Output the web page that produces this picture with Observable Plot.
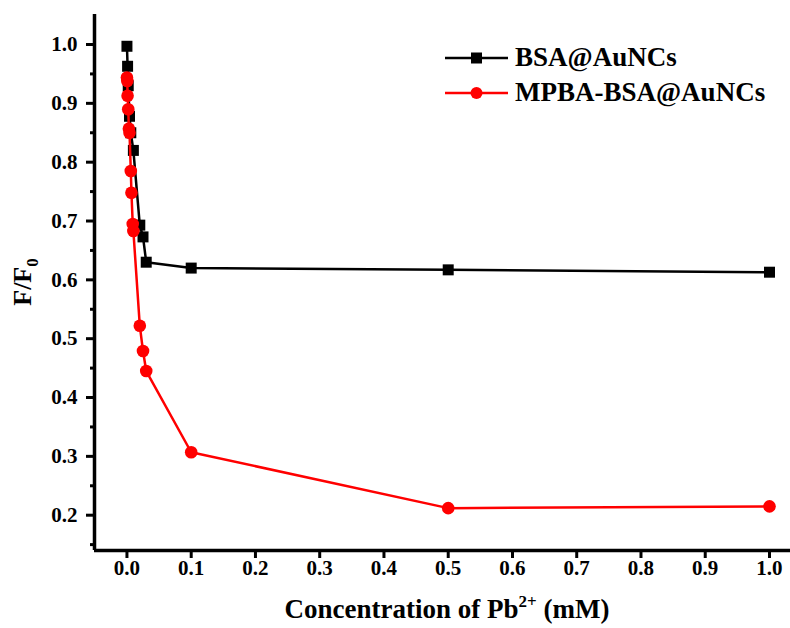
<!DOCTYPE html>
<html>
<head>
<meta charset="utf-8">
<script src="https://cdn.jsdelivr.net/npm/d3@7"></script>
<script src="https://cdn.jsdelivr.net/npm/@observablehq/plot@0.6"></script>
<style>
  html, body { margin: 0; padding: 0; background: #fff; }
  #wrap { position: relative; width: 790px; height: 628px; }
  #legend { position: absolute; left: 445px; top: 40px; font-family: "Liberation Serif", "Times New Roman", serif; font-weight: bold; font-size: 27px; color: #000; }
  .row { display: flex; align-items: center; height: 35px; }
  .row svg { margin-right: 7px; }
</style>
</head>
<body>
<div id="wrap"><div id="legend"></div></div>
<script>
// Series names / colors
const seriesNames = ["BSA@AuNCs", "MPBA-BSA@AuNCs"];
const seriesColors = ["#000000", "#ff0000"];
const seriesSymbols = ["square", "circle"];

// BSA@AuNCs (black squares)
const bsaX = [0, 0.001, 0.002, 0.004, 0.006, 0.01, 0.02, 0.025, 0.03, 0.1, 0.5, 1.0];
const bsaY = [0.997, 0.963, 0.93, 0.878, 0.85, 0.82, 0.693, 0.673, 0.63, 0.62, 0.617, 0.613];

// MPBA-BSA@AuNCs (red circles)
const mpbaX = [0, 0.0005, 0.001, 0.002, 0.003, 0.004, 0.006, 0.007, 0.009, 0.01, 0.02, 0.025, 0.03, 0.1, 0.5, 1.0];
const mpbaY = [0.944, 0.938, 0.913, 0.89, 0.857, 0.85, 0.785, 0.748, 0.695, 0.683, 0.522, 0.479, 0.445, 0.307, 0.212, 0.215];

// Tick values
const xTicks = [0, 0.1, 0.2, 0.3, 0.4, 0.5, 0.6, 0.7, 0.8, 0.9, 1.0];
const yTicks = [0.2, 0.3, 0.4, 0.5, 0.6, 0.7, 0.8, 0.9, 1.0];
const yMinorTicks = [0.15, 0.25, 0.35, 0.45, 0.55, 0.65, 0.75, 0.85, 0.95];

const xDomain = [-0.0505, 1.0327];
const yDomain = [0.14, 1.051];

const bsa = bsaX.map((x, i) => ({x, y: bsaY[i]}));
const mpba = mpbaX.map((x, i) => ({x, y: mpbaY[i]}));

const font = "'Liberation Serif', 'Times New Roman', serif";

const chart = Plot.plot({
  width: 790,
  height: 628,
  marginLeft: 94,
  marginRight: 0,
  marginTop: 14,
  marginBottom: 78,
  style: {fontFamily: font, fontWeight: "bold", color: "#000", background: "#fff", overflow: "visible"},
  x: {domain: xDomain},
  y: {domain: yDomain},
  marks: [
    Plot.axisX({ticks: xTicks, tickSize: 8, tickPadding: 2, tickFormat: d3.format(".1f"), strokeWidth: 3, fontSize: 21, fontWeight: "bold", label: null}),
    Plot.axisY({ticks: yTicks, tickSize: 8, tickPadding: 9, tickFormat: d3.format(".1f"), strokeWidth: 3, fontSize: 21, fontWeight: "bold", label: null}),
    Plot.axisY({ticks: yMinorTicks, tickSize: 4, text: null, strokeWidth: 3, label: null}),
    Plot.ruleX([xDomain[0]], {strokeWidth: 3.5, stroke: "#000"}),
    Plot.ruleY([yDomain[0]], {strokeWidth: 3.5, stroke: "#000"}),
    Plot.line(bsa, {x: "x", y: "y", stroke: seriesColors[0], strokeWidth: 2.5}),
    Plot.dot(bsa, {x: "x", y: "y", symbol: seriesSymbols[0], r: 6.2, fill: seriesColors[0], stroke: "none"}),
    Plot.line(mpba, {x: "x", y: "y", stroke: seriesColors[1], strokeWidth: 2.5}),
    Plot.dot(mpba, {x: "x", y: "y", symbol: seriesSymbols[1], r: 6.3, fill: seriesColors[1], stroke: "none"})
  ]
});

document.getElementById("wrap").prepend(chart);

// Axis titles with sub/superscripts
const svg = d3.select(chart);
const xr = chart.scale("x").range, yr = chart.scale("y").range;
const cx = (xr[0] + xr[1]) / 2;
const cy = (yr[0] + yr[1]) / 2;

const xt = svg.append("text")
  .attr("x", cx + 5).attr("y", 618)
  .attr("text-anchor", "middle")
  .attr("font-family", font).attr("font-weight", "bold").attr("font-size", 27);
xt.append("tspan").text("Concentration of Pb");
xt.append("tspan").attr("dy", -11).attr("font-size", 17).text("2+");
xt.append("tspan").attr("dy", 11).text(" (mM)");

const yt = svg.append("text")
  .attr("transform", `translate(31,${cy}) rotate(-90)`)
  .attr("text-anchor", "middle")
  .attr("font-family", font).attr("font-weight", "bold").attr("font-size", 26);
yt.append("tspan").text("F/F");
yt.append("tspan").attr("dy", 7).attr("font-size", 17).text("0");

// Legend
const legend = d3.select("#legend");
seriesNames.forEach((name, i) => {
  const row = legend.append("div").attr("class", "row");
  const s = row.append("svg").attr("width", 63).attr("height", 20);
  s.append("line").attr("x1", 0).attr("x2", 63).attr("y1", 10).attr("y2", 10)
    .attr("stroke", seriesColors[i]).attr("stroke-width", 2.5);
  if (seriesSymbols[i] === "square") {
    s.append("rect").attr("x", 31.5 - 5.5).attr("y", 4.5).attr("width", 11).attr("height", 11).attr("fill", seriesColors[i]);
  } else {
    s.append("circle").attr("cx", 31.5).attr("cy", 10).attr("r", 6).attr("fill", seriesColors[i]);
  }
  row.append("span").text(name);
});
</script>
</body>
</html>
